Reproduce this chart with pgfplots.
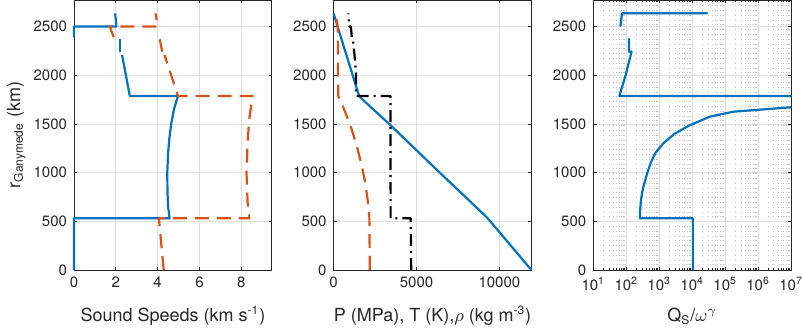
\documentclass[border=0pt]{standalone}
\usepackage{fontspec}
\setmainfont{TeX Gyre Heros}
\usepackage{pgfplots}
\pgfplotsset{compat=1.18}
\definecolor{mblue}{RGB}{0,114,189}
\definecolor{morange}{RGB}{217,83,25}
\definecolor{axgray}{RGB}{38,38,38}
\definecolor{gridgray}{RGB}{223,223,223}
\definecolor{minorgray}{RGB}{195,195,195}
\pgfplotsset{
  mstyle/.style={
    scale only axis, width=98.9pt, height=134.85pt,
    anchor=south west,
    axis line style={axgray, line width=0.4pt},
    every tick/.style={axgray, line width=0.4pt},
    tick align=inside, xtick pos=both, ytick pos=both,
    major tick length=1.6pt, minor tick length=1pt,
    ymin=0, ymax=2770, ytick={0,500,1000,1500,2000,2500},
    ymajorgrids, xmajorgrids,
    major grid style={gridgray, line width=0.4pt},
    tick label style={font=\fontsize{7.5}{9}\selectfont, text=axgray},
    label style={font=\fontsize{9}{10.8}\selectfont, text=axgray},
    /pgf/number format/assume math mode=true,
    /pgf/number format/1000 sep={},
    scaled ticks=false,
    xlabel style={at={(axis description cs:0.5,0)}, anchor=base, yshift=-26pt},
    enlargelimits=false,
  },
  bl/.style={mblue, line width=1.1pt, line join=round, solid},
  orr/.style={morange, line width=1.1pt, line join=round, dash pattern=on 7pt off 4pt},
  bk/.style={black, line width=1.1pt, line join=round, dash pattern=on 6pt off 2.5pt on 1pt off 2.5pt},
}
\begin{document}
\begin{tikzpicture}
\path[use as bounding box] (0,0) rectangle (402pt,167.5pt);
% ---------------- Panel 1 ----------------
\begin{axis}[mstyle, at={(37pt,32.5pt)}, clip=false,
  xmin=0, xmax=9.46, xtick={0,2,4,6,8},
  xlabel={Sound Speeds (km s\textsuperscript{-1})}]
\addplot[bl] coordinates {(0,0) (0,531) (4.57,531) (4.50,650) (4.47,800) (4.46,1000) (4.50,1200) (4.56,1350) (4.65,1500) (4.78,1650) (4.97,1787) (2.67,1787) (2.30,2208)};
\addplot[bl] coordinates {(2.19,2242) (2.19,2369)};
\addplot[bl] coordinates {(0,2390) (0,2500) (2.03,2500) (1.97,2636)};
\addplot[orr] coordinates {(4.29,0) (4.06,531) (8.38,531) (8.30,700) (8.25,1000) (8.30,1300) (8.38,1550) (8.54,1787) (4.97,1787) (4.33,2208)};
\addplot[orr] coordinates {(4.22,2242) (4.10,2369)};
\addplot[orr] coordinates {(1.90,2390) (1.71,2500) (4.01,2500) (3.90,2636)};
\end{axis}
% ---------------- Panel 2 ----------------
\begin{axis}[mstyle, at={(166.8pt,32.5pt)}, clip=false,
  xmin=0, xmax=11930, xtick={0,5000,10000},
  xlabel={P (MPa), T (K),$\rho$ (kg m\textsuperscript{-3})}]
\addplot[bl] coordinates {(0,2636) (240,2500) (1540,1787) (1776,1746) (3350,1500) (4880,1250) (6400,1000) (7950,750) (9274,535) (11930,0)};
\addplot[orr] coordinates {(2180,0) (2170,300) (2156,547) (2053,719) (1914,890) (1713,1061) (1411,1266) (1010,1489) (568,1677) (363,1746) (280,1787) (265,2242) (255,2390) (250,2500) (110,2636)};
\addplot[bk] coordinates {(4680,0) (4650,531) (3440,531) (3430,1787) (1354,1787) (1354,2000) (1290,2150) (1240,2242) (1160,2369) (1100,2390) (1040,2500) (950,2500) (890,2636)};
\end{axis}
% ---------------- Panel 3 ----------------
\begin{axis}[mstyle, at={(296.65pt,32.5pt)},
  xmode=log, xmin=10, xmax=1e7,
  xtick={1e1,1e2,1e3,1e4,1e5,1e6,1e7},
  xticklabels={10\textsuperscript{1},10\textsuperscript{2},10\textsuperscript{3},10\textsuperscript{4},10\textsuperscript{5},10\textsuperscript{6},10\textsuperscript{7}},
  minor xtick={20,30,40,50,60,70,80,90,200,300,400,500,600,700,800,900,2000,3000,4000,5000,6000,7000,8000,9000,20000,30000,40000,50000,60000,70000,80000,90000,200000,300000,400000,500000,600000,700000,800000,900000,2000000,3000000,4000000,5000000,6000000,7000000,8000000,9000000},
  xminorgrids=true,
  minor grid style={minorgray, dotted, line width=0.4pt},
  xlabel={Q\textsubscript{S}/$\omega^{\gamma}$}]
\addplot[bl] coordinates {(10471,0) (10471,531) (261,531) (264,620) (280,719) (305,800) (331,856) (437,1000) (550,1100) (759,1200) (1318,1300) (2951,1400) (8700,1489) (34674,1575) (177828,1626) (1e7,1671) (1e9,1730) (1e11,1787) (61.7,1787) (95.5,2000) (144.5,2242) (120.2,2242) (120.2,2380)};
\addplot[bl] coordinates {(66.1,2500) (74.1,2636) (29512,2636)};
\end{axis}
\node[rotate=90, anchor=base, font=\fontsize{9}{10.8}\selectfont, text=axgray] at (10pt,100pt) {r\textsubscript{Ganymede} (km)};
\end{tikzpicture}
\end{document}
